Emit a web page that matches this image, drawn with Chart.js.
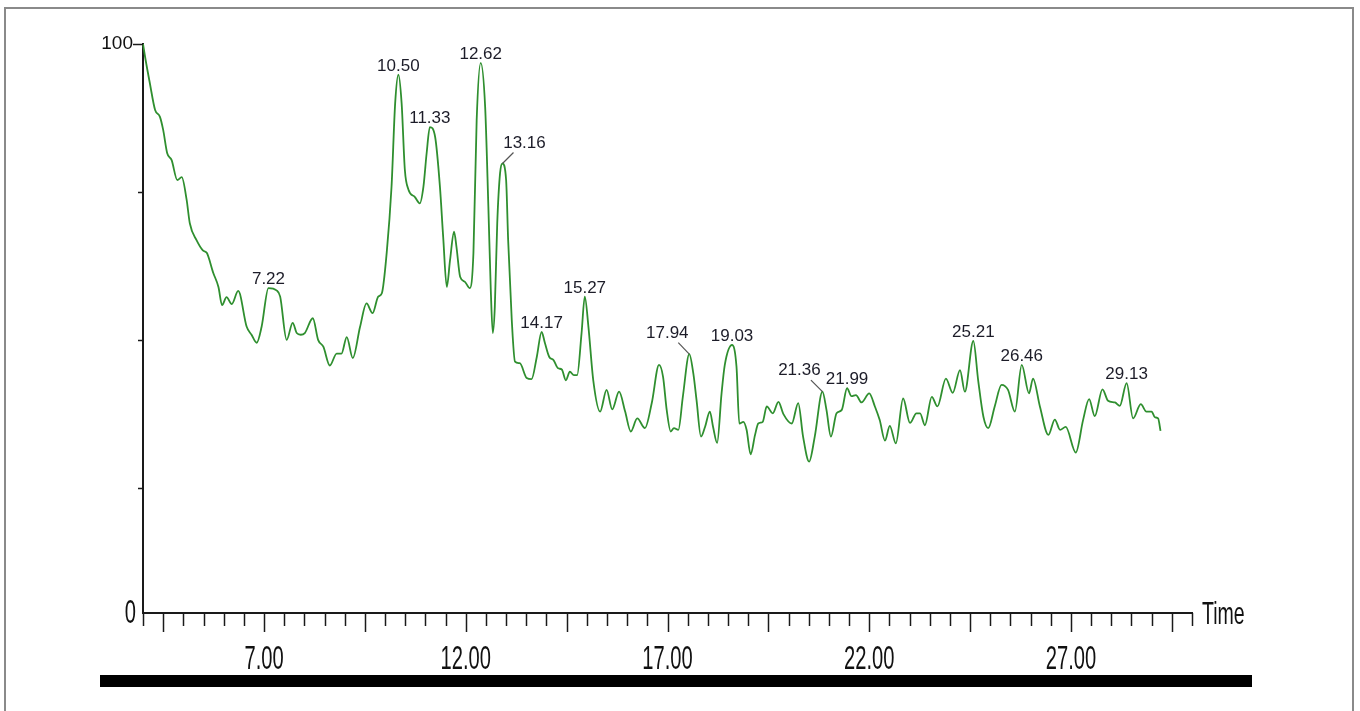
<!DOCTYPE html>
<html lang="en">
<head>
<meta charset="UTF-8">
<title>Chromatogram</title>
<script src="https://cdn.jsdelivr.net/npm/chart.js"></script>
<style>
  body { margin: 0; background: #fff; }
  .frame {
    position: absolute; left: 4px; top: 7px; width: 1350px; height: 740px;
    border: 2px solid #8a8a8a; border-bottom: none; box-sizing: border-box;
  }
  .chart-box { position: absolute; left: 0; top: 0; width: 1360px; height: 711px; }
</style>
</head>
<body>
<div class="frame"></div>
<div class="chart-box"><canvas id="tic"></canvas></div>
<script>
// retention time (axis units) and relative intensity (%)
const times = [
  4.00, 4.05, 4.17, 4.30, 4.42, 4.50, 4.60, 4.71, 4.85, 4.96,
  5.08, 5.16, 5.33, 5.49, 5.58, 5.74, 5.87, 5.96, 6.07, 6.20,
  6.36, 6.57, 6.69, 6.82, 6.94, 7.11, 7.31, 7.40, 7.56, 7.71,
  7.81, 7.91, 8.01, 8.21, 8.34, 8.47, 8.63, 8.80, 8.92, 9.05,
  9.20, 9.38, 9.54, 9.69, 9.83, 9.92, 10.04, 10.16, 10.25, 10.33,
  10.41, 10.49, 10.58, 10.74, 10.86, 10.95, 11.03, 11.11, 11.24, 11.36,
  11.44, 11.53, 11.61, 11.71, 11.77, 11.86, 11.98, 12.10, 12.19, 12.27,
  12.37, 12.48, 12.56, 12.62, 12.67, 12.72, 12.78, 12.85, 12.91, 13.00,
  13.05, 13.14, 13.22, 13.34, 13.51, 13.63, 13.76, 13.88, 13.96, 14.07,
  14.17, 14.29, 14.38, 14.48, 14.58, 14.68, 14.76, 14.87, 14.95, 15.04,
  15.16, 15.33, 15.49, 15.63, 15.80, 15.95, 16.09, 16.25, 16.44, 16.61,
  16.79, 16.89, 16.98, 17.08, 17.16, 17.27, 17.38, 17.54, 17.64, 17.72,
  17.83, 17.93, 18.05, 18.13, 18.23, 18.34, 18.42, 18.60, 18.71, 18.78,
  18.88, 18.96, 19.06, 19.17, 19.25, 19.36, 19.46, 19.61, 19.75, 19.87,
  20.08, 20.24, 20.36, 20.51, 20.65, 20.84, 20.94, 21.05, 21.19, 21.32,
  21.45, 21.56, 21.67, 21.81, 22.00, 22.14, 22.26, 22.39, 22.51, 22.66,
  22.84, 23.01, 23.17, 23.26, 23.38, 23.55, 23.69, 23.90, 24.07, 24.25,
  24.37, 24.58, 24.70, 24.83, 24.95, 25.11, 25.28, 25.44, 25.61, 25.78,
  25.96, 26.06, 26.23, 26.44, 26.60, 26.73, 26.87, 27.12, 27.30, 27.45,
  27.59, 27.78, 27.92, 28.09, 28.21, 28.38, 28.54, 28.73, 28.87, 29.00,
  29.08, 29.16, 29.22
];
const intensity = [
  100, 97.8, 93.1, 88.4, 87.2, 84.9, 80.8, 79.6, 76.1, 76.6,
  72.7, 68.5, 65.5, 63.7, 63.3, 59.8, 57.3, 54.1, 55.5, 54.3,
  56.6, 50.3, 48.9, 47.5, 50.3, 57.1, 56.7, 55.6, 48.0, 51.0,
  49.2, 48.9, 49.2, 51.8, 48.0, 46.8, 43.5, 45.6, 45.6, 48.5,
  44.8, 50.3, 54.4, 52.7, 55.6, 56.2, 63.3, 74.9, 89.6, 94.6,
  89.6, 77.9, 74.4, 73.1, 72.0, 74.9, 80.8, 85.4, 83.7, 74.9,
  66.1, 57.3, 62.0, 67.0, 64.3, 59.1, 58.2, 57.1, 63.3, 86.6,
  96.7, 89.0, 71.4, 56.8, 49.2, 53.8, 68.5, 77.3, 79.0, 76.1,
  65.6, 51.5, 44.2, 43.9, 41.3, 41.1, 45.0, 49.4, 47.5, 45.0,
  44.5, 43.0, 42.8, 40.9, 42.4, 41.8, 41.8, 49.2, 55.6, 50.3,
  40.9, 35.4, 39.2, 35.8, 38.9, 35.4, 31.9, 34.2, 32.5, 36.9,
  43.6, 41.5, 35.7, 31.9, 32.5, 32.2, 38.0, 45.5, 42.1, 37.4,
  31.0, 32.7, 35.4, 32.7, 29.9, 38.6, 43.6, 47.1, 43.3, 33.3,
  33.6, 32.2, 27.9, 31.3, 33.3, 33.6, 36.3, 35.1, 37.1, 35.0,
  33.3, 36.9, 31.0, 26.6, 31.0, 38.9, 35.7, 31.0, 35.1, 35.7,
  39.5, 38.1, 38.3, 37.0, 38.6, 36.3, 33.9, 30.3, 32.9, 29.8,
  37.7, 33.4, 35.1, 35.1, 33.0, 38.0, 36.3, 41.2, 38.7, 42.7,
  38.9, 47.8, 40.9, 34.5, 32.5, 36.3, 40.1, 39.2, 35.4, 43.6,
  38.6, 41.2, 36.3, 31.3, 34.0, 32.2, 32.7, 28.2, 33.9, 37.6,
  34.6, 39.3, 37.3, 37.0, 36.4, 40.4, 34.2, 36.7, 35.4, 35.4,
  34.4, 34.2, 32.0
];

// annotated peaks: label text and the axis time of the apex it belongs to
const peakLabels = ['7.22', '10.50', '11.33', '12.62', '13.16', '14.17', '15.27',
                    '17.94', '19.03', '21.36', '21.99', '25.21', '26.46', '29.13'];
const peakTimes  = [7.11, 10.33, 11.11, 12.37, 12.91, 13.88, 14.95,
                    17.54, 18.60, 20.84, 21.45, 24.58, 25.78, 28.38];

// axis ticks
const xLabelValues = [7, 12, 17, 22, 27];
const xMajorTicks = [4.5, 7, 9.5, 12, 14.5, 17, 19.5, 22, 24.5, 27, 29.5];
const yTickValues = [0, 22, 48, 74, 100];

const ARIAL = '"Liberation Sans", Arial, sans-serif';
const SQUEEZE = 0.61;   // axis text is a tall, narrow face

// labels pulled away from their peak get a small leader line
const leaderOffsets = { '13.16': [22, -20], '17.94': [-22, -21], '21.36': [-23, -21] };

function narrowText(ctx, txt, x, y, align) {
  ctx.save();
  ctx.translate(x, y);
  ctx.scale(SQUEEZE, 1);
  ctx.textAlign = align;
  ctx.textBaseline = 'middle';
  ctx.fillText(txt, 0, 0);
  ctx.restore();
}

const decor = {
  id: 'decor',
  afterDraw(chart) {
    const { ctx, scales: { x, y } } = chart;
    ctx.save();
    ctx.strokeStyle = '#1a1a1a';
    ctx.lineWidth = 1.5;

    // x tick marks every 0.5, long ones every 2.5
    for (let v = 4; v <= 30.001; v += 0.5) {
      const px = Math.round(x.getPixelForValue(v)) + 0.5;
      const major = xMajorTicks.some(m => Math.abs(m - v) < 0.01);
      ctx.beginPath();
      ctx.moveTo(px, x.top);
      ctx.lineTo(px, x.top + (major ? 19 : 13));
      ctx.stroke();
    }
    // y tick marks
    yTickValues.forEach(v => {
      if (v === 0) return;
      const py = Math.round(y.getPixelForValue(v)) + 0.5;
      ctx.beginPath();
      ctx.moveTo(y.right, py);
      ctx.lineTo(y.right - (v === 100 ? 10 : 5), py);
      ctx.stroke();
    });

    // narrow axis texts
    ctx.fillStyle = '#111';
    ctx.font = '33px ' + ARIAL;
    xLabelValues.forEach(v => narrowText(ctx, v.toFixed(2), x.getPixelForValue(v), x.top + 47, 'center'));
    narrowText(ctx, '0', y.right - 7, y.getPixelForValue(0) + 1, 'right');
    ctx.font = '32px ' + ARIAL;
    narrowText(ctx, 'Time', x.right + 10, x.top + 2, 'left');

    // thick bar under the axis
    ctx.fillStyle = '#000';
    ctx.fillRect(100, 675, 1152, 12);

    // peak annotations
    const meta = chart.getDatasetMeta(0);
    ctx.font = '17px ' + ARIAL;
    ctx.fillStyle = '#1c1c28';
    ctx.textAlign = 'center';
    peakLabels.forEach((txt, i) => {
      const idx = times.findIndex(t => Math.abs(t - peakTimes[i]) < 0.001);
      if (idx < 0) return;
      const pt = meta.data[idx];
      const off = leaderOffsets[txt];
      if (off) {
        ctx.strokeStyle = '#555';
        ctx.lineWidth = 1.2;
        ctx.beginPath();
        ctx.moveTo(pt.x, pt.y);
        ctx.lineTo(pt.x + off[0] * 0.5, pt.y + off[1] * 0.55);
        ctx.stroke();
        ctx.textBaseline = 'middle';
        ctx.fillText(txt, pt.x + off[0], pt.y + off[1]);
      } else {
        ctx.textBaseline = 'alphabetic';
        ctx.fillText(txt, pt.x, pt.y - 4);
      }
    });
    ctx.restore();
  }
};

new Chart(document.getElementById('tic'), {
  type: 'line',
  data: {
    datasets: [{
      data: times.map((t, i) => ({ x: t, y: intensity[i] })),
      borderColor: '#2f8f2f',
      borderWidth: 1.8,
      pointRadius: 0,
      tension: 0.4,
      cubicInterpolationMode: 'monotone',
      clip: 4
    }]
  },
  options: {
    responsive: true,
    maintainAspectRatio: false,
    animation: false,
    events: [],
    layout: { padding: { top: 44, right: 168, left: 0, bottom: 0 } },
    plugins: { legend: { display: false }, tooltip: { enabled: false } },
    scales: {
      x: {
        type: 'linear',
        min: 4,
        max: 30,
        afterBuildTicks: s => { s.ticks = xLabelValues.map(v => ({ value: v })); },
        afterFit: s => { s.height = 98; },
        grid: { drawOnChartArea: false, drawTicks: false },
        border: { display: true, color: '#1a1a1a', width: 2 },
        ticks: { display: false }
      },
      y: {
        min: 0,
        max: 100,
        afterBuildTicks: s => { s.ticks = yTickValues.map(v => ({ value: v })); },
        afterFit: s => { s.width = 143; },
        grid: { drawOnChartArea: false, drawTicks: true, tickLength: 5, color: 'rgba(0,0,0,0)' },
        border: { display: true, color: '#1a1a1a', width: 2 },
        ticks: {
          padding: 5,
          color: '#111',
          font: { family: ARIAL, size: 19 },
          callback: v => (v === 100) ? '100' : ''
        }
      }
    }
  },
  plugins: [decor]
});
</script>
</body>
</html>
